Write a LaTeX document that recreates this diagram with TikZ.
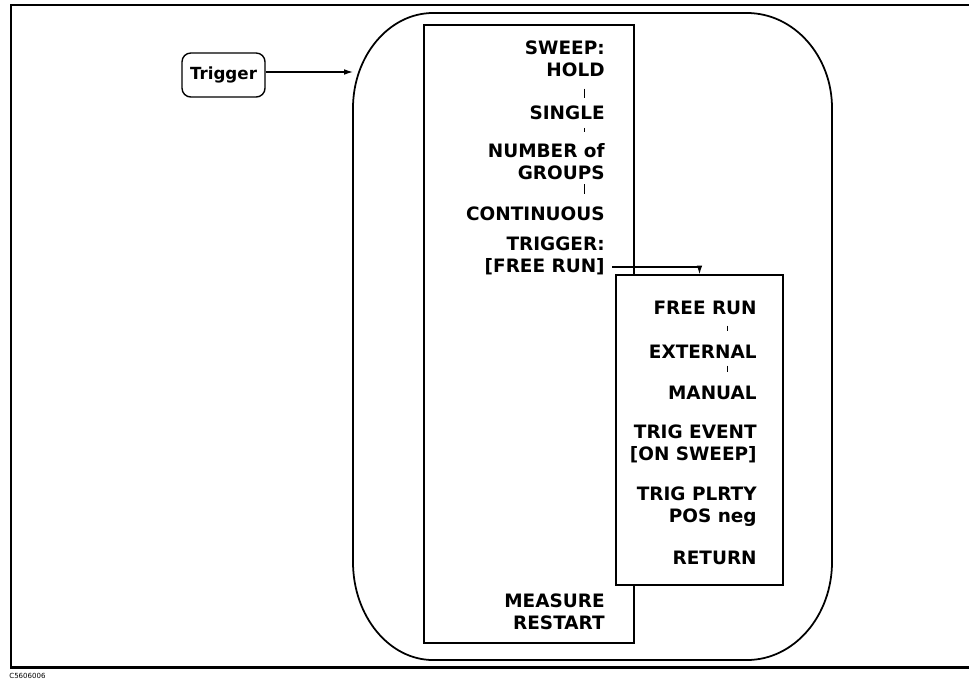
\documentclass[tikz,border=0pt]{standalone}
\usepackage{fontspec}
\setmainfont{DejaVu Sans}
\usetikzlibrary{arrows.meta,calc}
\begin{document}
\begin{tikzpicture}[x=0.02cm,y=-0.02cm,
  menu/.style={anchor=east,align=right,inner sep=0pt,font=\fontsize{10.5}{12.4}\selectfont\bfseries},
  box/.style={draw,line width=0.8pt,inner sep=0pt},
  sepbar/.style={line width=0.45pt},
  arr/.style={line width=0.7pt,-{Latex[length=5pt,width=3.2pt]}}]
\useasboundingbox (0,0) rectangle (969,680);
% frame
\draw[line width=1.7pt] (969,5) -- (11,5) -- (11,667) -- (969,667);
\node[anchor=west,inner sep=0pt,font=\fontsize{4}{4}\selectfont] (code) at (9,676) {C5606006};
% outer rounded outline
\draw[line width=1pt] (433,13) -- (747,13)
  .. controls (794,13) and (832,56) .. (832,108) -- (832,562)
  .. controls (832,616) and (794,660) .. (747,660) -- (433,660)
  .. controls (389,660) and (353,616) .. (353,562) -- (353,108)
  .. controls (353,56) and (389,13) .. (433,13) -- cycle;
\coordinate (outerin) at (353,72);
% trigger key
\node[draw,rounded corners=5pt,line width=0.8pt,minimum width=1.66cm,minimum height=0.88cm,
  font=\fontsize{9.5}{11}\selectfont\bfseries] (trig) at (223.5,75) {Trigger};
\draw[arr] (trig.east |- outerin) -- (outerin);
% main menu
\node[box,minimum width=4.2cm,minimum height=12.36cm] (main) at (529,334) {};
\node[menu] (sweep) at (605,59) {SWEEP:\\HOLD};
\node[menu] (single) at (605,113) {SINGLE};
\node[menu] (number) at (605,161.5) {NUMBER of\\GROUPS};
\node[menu] (cont) at (605,214) {CONTINUOUS};
\node[menu] (trigm) at (605,256) {TRIGGER:\\{[FREE RUN]}};
\node[menu] (measure) at (605,612) {MEASURE\\RESTART};
\coordinate (bx) at (584,0);
\draw[sepbar,shorten <=0.23cm,shorten >=0.16cm] (sweep.south -| bx) -- (single.north -| bx);
\draw[sepbar,shorten <=0.15cm,shorten >=0.23cm] (single.south -| bx) -- (number.north -| bx);
\draw[sepbar,shorten <=0.09cm,shorten >=0.25cm] (number.south -| bx) -- (cont.north -| bx);
% submenu
\node[box,fill=white,minimum width=3.34cm,minimum height=6.2cm] (sub) at (699.5,430) {};
\node[menu] (freerun) at (757,308) {FREE RUN};
\node[menu] (external) at (757,352) {EXTERNAL};
\node[menu] (manual) at (757,393) {MANUAL};
\node[menu] (event) at (757,444) {TRIG EVENT\\{[ON SWEEP]}};
\node[menu] (plrty) at (757,507) {TRIG PLRTY\\POS neg};
\node[menu] (return) at (757,558) {RETURN};
\coordinate (sx) at (727,0);
\draw[sepbar,shorten <=0.21cm,shorten >=0.27cm] (freerun.south -| sx) -- (external.north -| sx);
\draw[sepbar,shorten <=0.13cm,shorten >=0.27cm] (external.south -| sx) -- (manual.north -| sx);
% trigger arrow into submenu
\coordinate (tstart) at (612,267);
\draw[arr] (tstart) -| (sub.north);
\end{tikzpicture}
\end{document}
